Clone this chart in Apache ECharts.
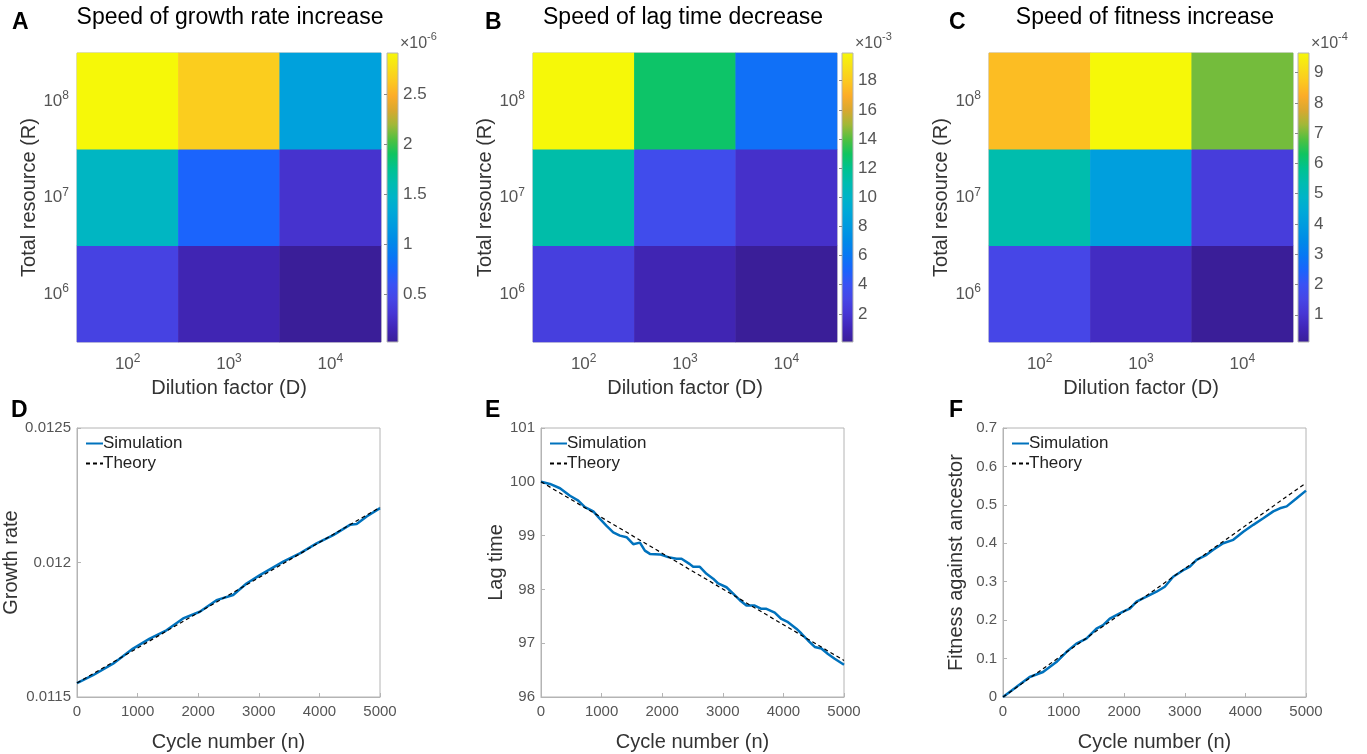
<!DOCTYPE html>
<html>
<head>
<meta charset="utf-8">
<script src="https://cdn.jsdelivr.net/npm/echarts@6/dist/echarts.min.js"></script>
<style>
  html, body { margin: 0; padding: 0; background: #fff; }
  #main { width: 1367px; height: 754px; }
</style>
</head>
<body>
<div id="main"></div>
<script>
// parula-like colour map, bottom -> top (evenly spaced stops)
const parula = ['#3a1e98', '#4126b8', '#4736d4', '#4646e6', '#3a52f4', '#1a64fc', '#0878f4',
                '#008ae8', '#009ae0', '#00a8d8', '#00b4c8', '#00bcb0', '#00c290', '#10c460',
                '#50c040', '#a0b838', '#d8a830', '#fcac28', '#fcc820', '#f8e018', '#f6f808'];

// heatmap axes (exponents of 10)
const dilutionExp = ['2', '3', '4'];
const resourceExp = ['6', '7', '8'];

// rows: R = 1e6, 1e7, 1e8 ; cols: D = 1e2, 1e3, 1e4
const growthSpeed = [      // x 1e-6
  [0.42, 0.14, 0.02],
  [1.50, 0.74, 0.28],
  [2.91, 2.65, 1.25]
];
const lagSpeed = [         // x 1e-3
  [2.6, 0.9, 0.07],
  [11.2, 3.5, 1.7],
  [19.9, 12.8, 5.6]
];
const fitnessSpeed = [     // x 1e-4
  [1.55, 0.75, 0.10],
  [5.4, 4.1, 1.25],
  [8.5, 9.65, 7.0]
];
const growthRange = [0.02, 2.91];
const lagRange = [0.07, 19.9];
const fitnessRange = [0.10, 9.65];
const growthTicks = [0.5, 1, 1.5, 2, 2.5];
const lagTicks = [2, 4, 6, 8, 10, 12, 14, 16, 18];
const fitnessTicks = [1, 2, 3, 4, 5, 6, 7, 8, 9];
const colorbarExp = ['-6', '-3', '-4'];

// line panels
const cycleTheory = [0, 5000];

const cycleD = [0, 264, 595, 925, 1200, 1476, 1751, 2026, 2302, 2577, 2797, 3018, 3403, 3678, 3954, 4229, 4504, 4615, 4780, 5000];
const growthSim = [0.011552, 0.011581, 0.011624, 0.011680, 0.011717, 0.011748, 0.011792, 0.011817, 0.011860, 0.011879,
                   0.011922, 0.011953, 0.012003, 0.012034, 0.012071, 0.012102, 0.012140, 0.012143, 0.012171, 0.012202];
const growthTheory = [0.011552, 0.012205];
const growthTicksY = [0.0115, 0.012, 0.0125];

const cycleE = [0, 148, 313, 478, 615, 725, 863, 973, 1082, 1192, 1302, 1412, 1522, 1632, 1714, 1797, 1962, 2099, 2126, 2236,
                2319, 2456, 2511, 2621, 2731, 2841, 2923, 3061, 3171, 3281, 3390, 3527, 3637, 3720, 3857, 3967, 4077, 4214, 4297, 4407,
                4517, 4626, 4736, 4846, 5000];
const lagSim = [100.0, 99.96, 99.88, 99.74, 99.65, 99.53, 99.45, 99.31, 99.18, 99.06, 99.0, 98.97, 98.84, 98.87, 98.72, 98.66, 98.65, 98.60, 98.63, 98.57,
                98.57, 98.47, 98.42, 98.42, 98.29, 98.20, 98.11, 98.04, 97.92, 97.80, 97.70, 97.70, 97.64, 97.64, 97.57, 97.45, 97.39, 97.27, 97.18, 97.05,
                96.93, 96.90, 96.80, 96.71, 96.60];
const lagTheory = [100.0, 96.68];

const cycleF = [0, 220, 440, 661, 881, 1046, 1211, 1376, 1542, 1652, 1762, 1982, 2093, 2203, 2368, 2533, 2670, 2808, 2974, 3084,
                3194, 3359, 3469, 3634, 3800, 3965, 4130, 4295, 4460, 4570, 4681, 4846, 5000];
const fitnessSim = [0, 0.026, 0.052, 0.065, 0.091, 0.117, 0.139, 0.152, 0.178, 0.187, 0.204, 0.222, 0.230, 0.248, 0.261, 0.274, 0.287, 0.313, 0.330, 0.339,
                    0.357, 0.370, 0.383, 0.400, 0.409, 0.430, 0.448, 0.465, 0.483, 0.491, 0.496, 0.517, 0.537];
const fitnessTheory = [0, 0.557];

const FONT = '"Liberation Sans", Arial, Helvetica, sans-serif';
const GREY = '#555';
const BOX = '#b4b4b4';

const chart = echarts.init(document.getElementById('main'));

const zip = (xs, ys) => xs.map((x, i) => [x, ys[i]]);
const cells = (m) => {
  const out = [];
  m.forEach((row, r) => row.forEach((v, c) => out.push([c, r, v])));
  return out;
};
const supRich = {
  b: { fontSize: 17, color: GREY, fontFamily: FONT, lineHeight: 22 },
  s: { fontSize: 12, color: GREY, fontFamily: FONT, verticalAlign: 'top', lineHeight: 13 }
};
const pow10 = (v) => '{b|10}{s|' + v + '}';

const heatLeft = [77, 533, 989];
const barLeft = [387, 842, 1298];
const lineLeft = [77, 541, 1003];
const heatData = [growthSpeed, lagSpeed, fitnessSpeed];
const ranges = [growthRange, lagRange, fitnessRange];
const ticks = [growthTicks, lagTicks, fitnessTicks];
const heatNameGap = [33, 33, 32];

const grids = [], xAxes = [], yAxes = [], series = [], visualMaps = [], legends = [];

for (let i = 0; i < 3; i++) {
  // heatmap
  grids.push({ left: heatLeft[i], top: 53, width: 304, height: 289, show: true, borderColor: BOX, backgroundColor: 'transparent' });
  xAxes.push({
    type: 'category', gridIndex: grids.length - 1, data: dilutionExp,
    name: 'Dilution factor (D)', nameLocation: 'middle', nameGap: 36,
    nameTextStyle: { fontSize: 20, color: '#333', fontFamily: FONT },
    axisLine: { show: false },
    axisTick: { show: true, inside: true, alignWithLabel: true, length: 4, lineStyle: { color: '#999' } },
    axisLabel: { formatter: pow10, rich: supRich, margin: 11 }
  });
  yAxes.push({
    type: 'category', gridIndex: grids.length - 1, data: resourceExp,
    name: 'Total resource (R)', nameLocation: 'middle', nameGap: heatNameGap[i],
    nameTextStyle: { fontSize: 20, color: '#333', fontFamily: FONT },
    axisLine: { show: false },
    axisTick: { show: true, inside: true, alignWithLabel: true, length: 4, lineStyle: { color: '#999' } },
    axisLabel: { formatter: pow10, rich: supRich, margin: 8 }
  });
  series.push({
    type: 'heatmap', xAxisIndex: xAxes.length - 1, yAxisIndex: yAxes.length - 1,
    data: cells(heatData[i]), emphasis: { disabled: true }
  });
  visualMaps.push({
    type: 'continuous', show: false, seriesIndex: series.length - 1,
    min: ranges[i][0], max: ranges[i][1], inRange: { color: parula }
  });

  // colour bar
  const stops = parula.map((c, k) => ({ offset: k / (parula.length - 1), color: c }));
  grids.push({
    left: barLeft[i], top: 53, width: 11, height: 289, show: true, borderColor: BOX,
    backgroundColor: new echarts.graphic.LinearGradient(0, 1, 0, 0, stops)
  });
  xAxes.push({ type: 'value', gridIndex: grids.length - 1, show: false, min: 0, max: 1 });
  yAxes.push({
    type: 'value', gridIndex: grids.length - 1, position: 'right',
    min: ranges[i][0], max: ranges[i][1],
    axisLine: { show: false },
    splitLine: { show: false },
    axisTick: { show: true, inside: true, length: 3, customValues: ticks[i], lineStyle: { color: '#888' } },
    axisLabel: { customValues: ticks[i], fontSize: 17, color: GREY, fontFamily: FONT, margin: 5 }
  });
  series.push({ type: 'line', xAxisIndex: xAxes.length - 1, yAxisIndex: yAxes.length - 1, data: [] });
}

const lineCfg = [
  { cyc: cycleD, sim: growthSim, th: growthTheory, min: 0.0115, max: 0.0125, interval: 0.0005, name: 'Growth rate', gap: 43,
    fmt: (v) => String(+v.toFixed(4)) },
  { cyc: cycleE, sim: lagSim, th: lagTheory, min: 96, max: 101, interval: 1, name: 'Lag time', gap: 27, fmt: (v) => String(v) },
  { cyc: cycleF, sim: fitnessSim, th: fitnessTheory, min: 0, max: 0.7, interval: 0.1, name: 'Fitness against ancestor', gap: 37,
    fmt: (v) => String(+v.toFixed(1)) }
];

lineCfg.forEach((c, i) => {
  grids.push({ left: lineLeft[i], top: 428, width: 303, height: 269, show: true, borderColor: BOX });
  xAxes.push({
    type: 'value', gridIndex: grids.length - 1, min: 0, max: 5000, interval: 1000,
    name: 'Cycle number (n)', nameLocation: 'middle', nameGap: 35,
    nameTextStyle: { fontSize: 20, color: '#333', fontFamily: FONT },
    axisLine: { lineStyle: { color: BOX } },
    axisTick: { inside: true, length: 4, lineStyle: { color: BOX } },
    splitLine: { show: false },
    axisLabel: { fontSize: 15, color: GREY, fontFamily: FONT, margin: 7, formatter: (v) => String(v) }
  });
  const yAxis = {
    type: 'value', gridIndex: grids.length - 1, min: c.min, max: c.max, interval: c.interval,
    name: c.name, nameLocation: 'middle', nameGap: c.gap,
    nameTextStyle: { fontSize: 20, color: '#333', fontFamily: FONT },
    axisLine: { show: true, lineStyle: { color: BOX } },
    axisTick: { show: true, inside: true, length: 4, lineStyle: { color: BOX } },
    splitLine: { show: false },
    axisLabel: { fontSize: 15, color: GREY, fontFamily: FONT, margin: 6, formatter: c.fmt }
  };
  if (i === 0) {
    yAxis.axisLabel.customValues = growthTicksY;
    yAxis.axisTick.customValues = growthTicksY;
  }
  yAxes.push(yAxis);
  series.push({
    name: 'Simulation', type: 'line', xAxisIndex: xAxes.length - 1, yAxisIndex: yAxes.length - 1,
    data: zip(c.cyc, c.sim), showSymbol: false, symbol: 'none', smooth: false,
    lineStyle: { color: '#0072BD', width: 2.5 }, itemStyle: { color: '#0072BD' }, z: 2
  });
  series.push({
    name: 'Theory', type: 'line', xAxisIndex: xAxes.length - 1, yAxisIndex: yAxes.length - 1,
    data: zip(cycleTheory, c.th), showSymbol: false, symbol: 'none',
    lineStyle: { color: '#000', width: 1.2, type: [4, 3] }, itemStyle: { color: '#000' }, z: 3
  });
  legends.push({
    data: ['Simulation', 'Theory'], orient: 'vertical',
    left: lineLeft[i] + 3, top: 430, itemWidth: 17, itemHeight: 10, itemGap: 3,
    itemStyle: { opacity: 0 },
    textStyle: { fontSize: 17, color: '#222', fontFamily: FONT, padding: [0, 0, 0, -5] },
    selectedMode: false
  });
});

// panel letters, titles and colour bar multipliers
const txt = (text, x, y, font, align, fill) => ({
  type: 'text', x: x, y: y,
  style: { text: text, font: font, fill: fill || '#000', textAlign: align || 'left', textVerticalAlign: 'middle' }
});
const letterFont = 'bold 23px ' + FONT;
const titleFont = '23px ' + FONT;
const multFont = '16px ' + FONT;
const expFont = '11px ' + FONT;

const graphics = [
  txt('A', 12, 23, letterFont), txt('B', 485, 23, letterFont), txt('C', 949, 23, letterFont),
  txt('D', 11, 411, letterFont), txt('E', 485, 411, letterFont), txt('F', 949, 411, letterFont),
  txt('Speed of growth rate increase', 230, 18, titleFont, 'center'),
  txt('Speed of lag time decrease', 683, 18, titleFont, 'center'),
  txt('Speed of fitness increase', 1145, 18, titleFont, 'center')
];
barLeft.forEach((bx, i) => {
  graphics.push(txt('\u00d710', bx + 13, 44, multFont, 'left', GREY));
  graphics.push(txt(colorbarExp[i], bx + 40, 37, expFont, 'left', GREY));
});

const option = {
  animation: false,
  backgroundColor: '#fff',
  grid: grids,
  xAxis: xAxes,
  yAxis: yAxes,
  visualMap: visualMaps,
  legend: legends,
  series: series,
  graphic: graphics
};

option && chart.setOption(option);
</script>
</body>
</html>
